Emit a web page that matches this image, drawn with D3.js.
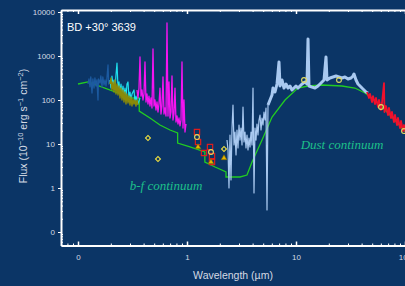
<!DOCTYPE html>
<html>
<head>
<meta charset="utf-8">
<script src="https://cdn.jsdelivr.net/npm/d3@7"></script>
<style>
  body { margin: 0; background: #0b3566; }
  svg { display: block; }
  .tick text { font-family: "Liberation Sans", Arial, sans-serif; }
</style>
</head>
<body>
<div id="chart"></div>
<script>
var width = 405, height = 286

// tick values and labels
var xMajor = [0.1, 1, 10, 100]
var xLabels = ['0', '1', '10', '100']
var yMajor = [0.1, 1, 10, 100, 1000, 10000]
var yLabels = ['0', '1', '10', '100', '1000', '10000']

// [wavelength um, flux]
var uvSpec = [[0.1235,231],[0.126,300],[0.1288,200],[0.131,333],[0.1344,144],[0.137,300],[0.1402,187],[0.143,316],
  [0.1463,208],[0.149,285],[0.1526,100],[0.154,300],[0.1592,243],[0.162,351],[0.1661,197],[0.169,333],[0.1732,219],
  [0.177,285],[0.1807,208],[0.184,300],[0.1885,624],[0.191,231],[0.1966,270],[0.200,197],[0.205,285],[0.209,219]]

var cyanSpec = [[0.1966,285],[0.2008,187],[0.205,351],[0.2094,208],[0.2139,285],[0.2185,169],[0.2231,370],[0.2279,694],
  [0.2328,187],[0.2378,257],[0.2428,152],[0.248,231],[0.2533,137],[0.2587,208],[0.2642,130],[0.2699,187],[0.2756,117],
  [0.2815,231],[0.2875,257],[0.2936,111],[0.2999,152],[0.3063,100],[0.3128,137],[0.3264,169],[0.3333,90],[0.3404,123],
  [0.3551,81],[0.3704,111]]

var oliveSpec = [[0.1966,231],[0.2008,316],[0.205,169],[0.2094,257],[0.2139,152],[0.2185,285],[0.2231,137],[0.2279,231],
  [0.2328,130],[0.2378,208],[0.2428,111],[0.248,187],[0.2533,100],[0.2587,169],[0.2642,90],[0.2699,152],[0.2756,81],
  [0.2815,137],[0.2875,85.5],[0.2936,123],[0.2999,77],[0.3063,117],[0.3128,73],[0.3195,105],[0.3264,81],[0.3333,100],
  [0.3404,73],[0.3477,100],[0.3551,77]]

var magentaSpec = [[0.3477,169],[0.3551,111],[0.3627,187],[0.3704,949],[0.3783,123],[0.3864,169],[0.3946,100],[0.4031,137],
  [0.4117,731],[0.4205,90],[0.4295,137],[0.4386,81.1],[0.448,123],[0.4575,73],[0.4673,111],[0.4773,65.8],[0.4876,1442],
  [0.4979,73],[0.5086,100],[0.5194,59.3],[0.5305,90],[0.5418,53.4],[0.5534,81.1],[0.5651,187],[0.5772,48.1],[0.5896,73],
  [0.6022,333],[0.6151,48.1],[0.6282,65.8],[0.6416,43.3],[0.6553,5623],[0.6692,43.3],[0.6837,257],[0.6982,39],
  [0.7131,53.4],[0.7283,351],[0.7439,35.1],[0.7597,48.1],[0.7759,187],[0.7925,31.6],[0.8095,43.3],[0.8268,28.5],
  [0.8444,39],[0.8625,25.7],[0.8809,35.1],[0.8997,731],[0.9189,23.1],[0.9386,100],[0.9586,18.7],[0.9791,28.5]]

var swsShort = [[2.328,12.3],[2.378,7.3],[2.428,1.0],[2.48,16],[2.533,1.52],[2.588,23.1],[2.642,77],[2.7,9.49],
  [2.756,18.7],[2.816,5.62],[2.875,20.8],[2.937,8.11],[3.0,27],[3.064,12.3],[3.129,23.1],[3.196,9.49],[3.264,69.3],
  [3.334,11.1],[3.405,18.7],[3.478,8.11],[3.552,16],[3.628,7.3],[3.705,13.7],[3.784,8.55],[3.865,18.7],[3.948,9.49],
  [4.032,187],[4.118,0.77],[4.206,23.1],[4.296,12.3],[4.387,28.5],[4.481,16],[4.577,35.1],[4.675,45.6],[4.775,20.8],
  [4.877,39],[4.981,27],[5.087,53.4],[5.196,35.1],[5.307,65.8],[5.42,0.316],[5.536,77]]

var swsLong = [[5.536,77],[5.775,100],[6.024,130],[6.152,187],[6.418,152],[6.695,231],[6.984,731],[7.132,208],[7.44,285],
  [7.762,187],[8.094,231],[8.446,187],[8.81,208],[9.19,169],[9.59,187],[10,208],[10.43,187],[10.88,208],[11.35,231],
  [12.09,257],[12.62,231],[12.89,2432],[13.16,208],[14.02,197],[14.94,187],[15.91,208],[16.96,243],[18.07,285],
  [18.85,949],[19.25,285],[20.5,316],[21.85,333],[23.28,351],[24.8,333],[26.42,316],[28.15,333],[30,300],[31.96,316],
  [33.34,351],[34.04,390],[35.52,285],[37.06,231],[38.65,208],[40.32,187],[42.06,169],[43.87,152],[45.78,144]]

var lwsSpec = [[44.81,152],[46.73,111],[47.75,137],[49.81,90],[50.85,123],[53.06,81.1],[54.19,111],[56.55,69.3],
  [57.75,100],[60.24,59.3],[61.52,85.5],[64.17,243],[64.8,53.4],[66.93,73],[69.82,45.6],[71.29,65.8],[74.38,39],
  [75.96,53.4],[79.23,31.6],[80.94,45.6],[84.44,27],[86.2,39],[89.99,23.1],[91.9,33.3],[95.9,19.7],[97.9,27],
  [102.1,16.9],[106.5,23.1]]

// bound-free + dust continuum model
var contModel = [[0.1,231],[0.1235,257],[0.3128,111],[0.3646,111],[0.3646,56],[0.4575,39],[0.5651,27],[0.6982,20.8],
  [0.8204,17.8],[0.8204,10.5],[1.065,8.55],[1.458,6.58],[1.458,3.9],[1.81,3.0],[2.279,2.31],[2.279,1.78],[3.064,1.78],
  [3.55,1.97],[3.95,3.9],[4.88,12.3],[6.03,41],[7.93,100],[10.4,187],[12.9,208],[17.3,219],[26.4,208],[34.7,187],
  [43,144],[56.5,85.5],[76,41],[93.8,23.1],[111,13.7]]

// photometry
var diamondPts = [[0.4386,13.7],[0.5418,4.56],[2.185,7.7]]
var circlePts = [[1.235,14.4],[1.66,6.58],[11.84,285],[24.8,285],[60.24,69.3],[97.9,19.7]]
var trianglePts = [[1.262,8.55],[1.66,3.9],[2.185,4.81]]
var squarePts = [[1.235,18.7],[1.262,11.1],[1.432,6.24],[1.626,8.55],[1.696,5.34],[1.696,3.9]]

//Create SVG element
var svg = d3.select('#chart')
  .append('svg')
  .attr('width', width)
  .attr('height', height)

svg.append('rect')
  .attr('width', width)
  .attr('height', height)
  .attr('fill', '#0b3566')

// Add X scale, 0.1 um at 78px, one decade = 109px
var xScale = d3.scaleLog().domain([0.1, 100]).range([78, 405])
xScale.domain([xScale.invert(61), xScale.invert(430)]).range([61, 430])

// Add Y scale, one decade = 44px
var yScale = d3.scaleLog().domain([0.1, 10000]).range([232, 12])
yScale.domain([yScale.invert(245.5), yScale.invert(10)]).range([245.5, 10])

function minors(scale, lo, hi) {
  var out = []
  var dom = scale.domain()
  for (var p = lo; p < hi; p++) {
    for (var k = 2; k < 10; k++) out.push(k * Math.pow(10, p))
  }
  return out.filter(v => v > Math.min(dom[0], dom[1]) && v < Math.max(dom[0], dom[1]))
}

var line = d3.line()
  .x(d => xScale(d[0]))
  .y(d => yScale(d[1]))

// continuum
svg.append('path')
  .datum(contModel)
  .attr('d', line)
  .attr('fill', 'none')
  .attr('stroke', '#22cc22')
  .attr('stroke-width', 1.3)

var specs = [
  { data: uvSpec, color: '#1c5aa0', w: 1.3 },
  { data: cyanSpec, color: '#1ee0ee', w: 1.2 },
  { data: oliveSpec, color: '#8a8a08', w: 1.4 },
  { data: magentaSpec, color: '#f414f0', w: 1.3 },
  { data: swsShort, color: '#a9c9f0', w: 1.2 },
  { data: swsLong, color: '#a9c9f0', w: 3 },
  { data: lwsSpec, color: '#f0102c', w: 1.8 }
]

specs.forEach(s => {
  svg.append('path')
    .datum(s.data)
    .attr('d', line)
    .attr('fill', 'none')
    .attr('stroke', s.color)
    .attr('stroke-width', s.w)
    .attr('stroke-linejoin', 'round')
})

// markers
svg.selectAll('squares')
  .data(squarePts)
  .enter()
  .append('path')
  .attr('d', d3.symbol(d3.symbolSquare, 28))
  .attr('transform', d => `translate(${xScale(d[0])},${yScale(d[1])})`)
  .attr('fill', 'none')
  .attr('stroke', '#e01c1c')
  .attr('stroke-width', 1.2)

svg.selectAll('tris')
  .data(trianglePts)
  .enter()
  .append('path')
  .attr('d', d3.symbol(d3.symbolTriangle, 14))
  .attr('transform', d => `translate(${xScale(d[0])},${yScale(d[1])})`)
  .attr('fill', '#e8b400')
  .attr('stroke', '#7a6a00')
  .attr('stroke-width', 0.6)

svg.selectAll('diamonds')
  .data(diamondPts)
  .enter()
  .append('path')
  .attr('d', d3.symbol(d3.symbolSquare, 12))
  .attr('transform', d => `translate(${xScale(d[0])},${yScale(d[1])}) rotate(45)`)
  .attr('fill', 'none')
  .attr('stroke', '#f0e040')
  .attr('stroke-width', 1.1)

svg.selectAll('circles')
  .data(circlePts)
  .enter()
  .append('circle')
  .attr('cx', d => xScale(d[0]))
  .attr('cy', d => yScale(d[1]))
  .attr('r', 2.4)
  .attr('fill', 'none')
  .attr('stroke', '#e4dc60')
  .attr('stroke-width', 1.1)

// Render Y axis, major ticks outward
svg.append('g')
  .attr('transform', 'translate(61,0)')
  .call(d3.axisLeft(yScale)
    .tickValues(yMajor)
    .tickFormat((d, i) => yLabels[i])
    .tickSizeInner(3)
    .tickSizeOuter(0)
    .tickPadding(3))
  .call(g => g.select('.domain').attr('stroke', 'white').attr('stroke-width', 2))
  .call(g => g.selectAll('.tick line').attr('stroke', 'white'))
  .call(g => g.selectAll('.tick text').attr('fill', '#d4dae4').attr('font-size', '8px'))

// minor Y ticks, inward
svg.append('g')
  .attr('transform', 'translate(61,0)')
  .call(d3.axisRight(yScale).tickValues(minors(yScale, -2, 5)).tickFormat('').tickSizeInner(2).tickSizeOuter(0))
  .call(g => g.select('.domain').remove())
  .call(g => g.selectAll('.tick line').attr('stroke', 'white'))

//Render X axis, ticks pointing up
svg.append('g')
  .attr('transform', 'translate(0,245.5)')
  .call(d3.axisBottom(xScale)
    .tickValues(xMajor)
    .tickFormat((d, i) => xLabels[i])
    .tickSizeInner(-4)
    .tickSizeOuter(0)
    .tickPadding(9))
  .call(g => g.select('.domain').attr('stroke', 'white').attr('stroke-width', 2))
  .call(g => g.selectAll('.tick line').attr('stroke', 'white').attr('stroke-width', 1.5))
  .call(g => g.selectAll('.tick text').attr('fill', '#d4dae4').attr('font-size', '8px'))

svg.append('g')
  .attr('transform', 'translate(0,245.5)')
  .call(d3.axisTop(xScale).tickValues(minors(xScale, -2, 3)).tickFormat('').tickSizeInner(2).tickSizeOuter(0))
  .call(g => g.select('.domain').remove())
  .call(g => g.selectAll('.tick line').attr('stroke', 'white'))

// top frame
svg.append('g')
  .attr('transform', 'translate(0,10)')
  .call(d3.axisBottom(xScale).tickValues(xMajor).tickFormat('').tickSizeInner(4).tickSizeOuter(0))
  .call(g => g.select('.domain').attr('stroke', 'white').attr('stroke-width', 2))
  .call(g => g.selectAll('.tick line').attr('stroke', 'white').attr('stroke-width', 1.5))

svg.append('g')
  .attr('transform', 'translate(0,10)')
  .call(d3.axisBottom(xScale).tickValues(minors(xScale, -2, 3)).tickFormat('').tickSizeInner(2).tickSizeOuter(0))
  .call(g => g.select('.domain').remove())
  .call(g => g.selectAll('.tick line').attr('stroke', 'white'))

// axis titles
svg.append('text')
  .attr('x', 233)
  .attr('y', 279)
  .attr('text-anchor', 'middle')
  .attr('fill', '#d4dae4')
  .attr('font-family', '"Liberation Sans", Arial, sans-serif')
  .attr('font-size', '10.5px')
  .text('Wavelength (\u00b5m)')

var ytitle = svg.append('text')
  .attr('transform', 'translate(27,126) rotate(-90)')
  .attr('text-anchor', 'middle')
  .attr('fill', '#d4dae4')
  .attr('font-family', '"Liberation Sans", Arial, sans-serif')
  .attr('font-size', '10.5px')
ytitle.append('tspan').text('Flux (10')
ytitle.append('tspan').attr('dy', -4).attr('font-size', '7.5px').text('\u221210')
ytitle.append('tspan').attr('dy', 4).text(' erg s')
ytitle.append('tspan').attr('dy', -4).attr('font-size', '7.5px').text('\u22121')
ytitle.append('tspan').attr('dy', 4).text(' cm')
ytitle.append('tspan').attr('dy', -4).attr('font-size', '7.5px').text('\u22122')
ytitle.append('tspan').attr('dy', 4).text(')')

// labels in the plot
svg.append('text')
  .attr('x', 67)
  .attr('y', 31)
  .attr('fill', 'white')
  .attr('font-family', '"Liberation Sans", Arial, sans-serif')
  .attr('font-size', '11px')
  .text('BD +30\u00b0 3639')

svg.append('text')
  .attr('x', 166)
  .attr('y', 190)
  .attr('text-anchor', 'middle')
  .attr('fill', '#1ec08a')
  .attr('font-family', '"Liberation Serif", "Times New Roman", serif')
  .attr('font-style', 'italic')
  .attr('font-size', '13px')
  .text('b-f continuum')

svg.append('text')
  .attr('x', 342)
  .attr('y', 149)
  .attr('text-anchor', 'middle')
  .attr('fill', '#1ec08a')
  .attr('font-family', '"Liberation Serif", "Times New Roman", serif')
  .attr('font-style', 'italic')
  .attr('font-size', '13px')
  .text('Dust continuum')
</script>
</body>
</html>
